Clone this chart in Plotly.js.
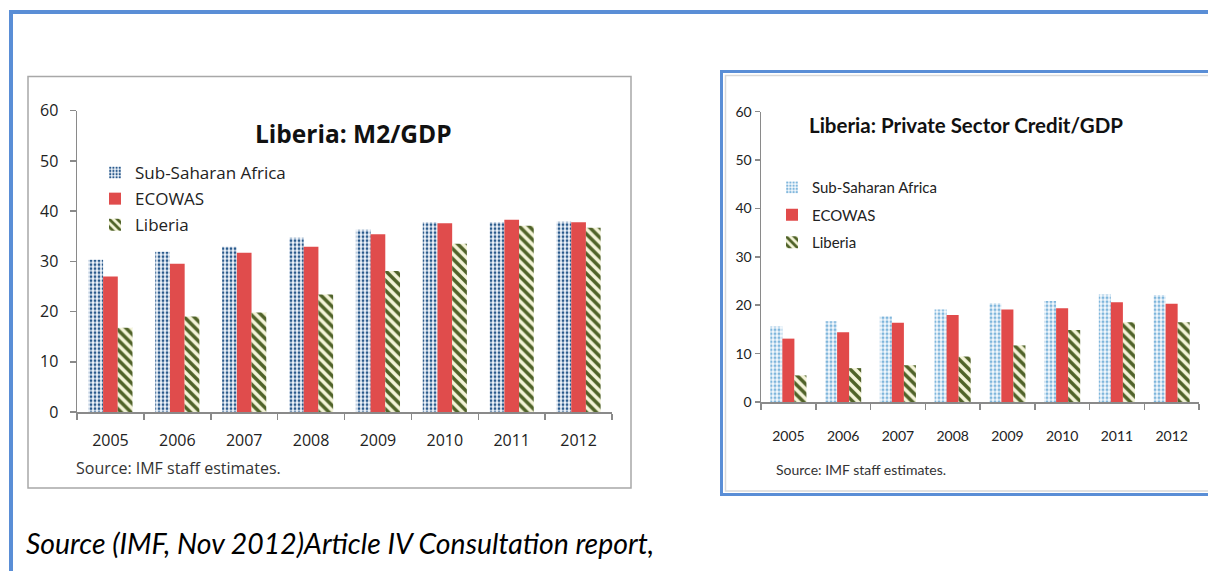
<!DOCTYPE html>
<html>
<head>
<meta charset="utf-8">
<script src="https://cdn.plot.ly/plotly-3.0.1.min.js"></script>
<style>
  html, body { margin: 0; padding: 0; background: #ffffff; }
  #chart { width: 1208px; height: 571px; }
</style>
</head>
<body>
<div id="chart"></div>
<script>
// ---- Data ----
var years = ['2005', '2006', '2007', '2008', '2009', '2010', '2011', '2012'];
var seriesNames = ['Sub-Saharan Africa', 'ECOWAS', 'Liberia'];

// Liberia: M2/GDP (percent)
var m2Ssa     = [30.3, 31.9, 32.9, 34.7, 36.3, 37.8, 37.8, 37.9];
var m2Ecowas  = [27.0, 29.5, 31.7, 32.9, 35.4, 37.6, 38.3, 37.8];
var m2Liberia = [16.8, 19.0, 19.8, 23.4, 28.1, 33.5, 37.1, 36.7];

// Liberia: Private Sector Credit/GDP (percent)
var pscSsa     = [15.6, 16.7, 17.7, 19.1, 20.4, 20.9, 22.2, 22.1];
var pscEcowas  = [13.1, 14.4, 16.4, 18.0, 19.1, 19.4, 20.6, 20.3];
var pscLiberia = [5.5, 7.0, 7.6, 9.4, 11.7, 14.9, 16.5, 16.5];

var yTicks = [0, 10, 20, 30, 40, 50, 60];

// ---- Geometry helpers (page pixels -> paper fractions) ----
var W = 1208, H = 571;
function px(x) { return x / W; }
function py(y) { return 1 - y / H; }

var leftFont = 'Open Sans, DejaVu Sans, sans-serif';
var rightFont = 'Lato, Open Sans, sans-serif';

function bar(x, y, name, xa, ya, legend, marker, group) {
  return {
    type: 'bar', x: x, y: y, name: name, xaxis: xa, yaxis: ya,
    legend: legend, legendgroup: group, marker: marker, hoverinfo: 'skip'
  };
}

var ssaLeft = { color: '#e4edf7', line: { width: 0 },
  pattern: { shape: '.', fgcolor: '#2a5a8c', bgcolor: '#edf3fa', size: 4, solidity: 0.38 } };
var ssaRight = { color: '#ffffff', line: { width: 0 },
  pattern: { shape: '.', fgcolor: '#7fb6dc', bgcolor: '#f4f9fd', size: 4, solidity: 0.45 } };
var ecoLeft = { color: '#e04c4c', line: { width: 0 } };
var ecoRight = { color: '#e14a4a', line: { width: 0 } };
var libMarker = { color: '#f2f2d4', line: { width: 0 },
  pattern: { shape: '\\', fgcolor: '#4f6228', bgcolor: '#f4f4d8', size: 7, solidity: 0.5 } };

var data = [
  bar(years, m2Ssa, seriesNames[0], 'x', 'y', 'legend', ssaLeft, 'a1'),
  bar(years, m2Ecowas, seriesNames[1], 'x', 'y', 'legend', ecoLeft, 'a2'),
  bar(years, m2Liberia, seriesNames[2], 'x', 'y', 'legend', libMarker, 'a3'),
  bar(years, pscSsa, seriesNames[0], 'x2', 'y2', 'legend2', ssaRight, 'b1'),
  bar(years, pscEcowas, seriesNames[1], 'x2', 'y2', 'legend2', ecoRight, 'b2'),
  bar(years, pscLiberia, seriesNames[2], 'x2', 'y2', 'legend2', libMarker, 'b3')
];

var axisGrey = '#8a8a8a';

function xAxis(domain, anchor, font, size, standoff) {
  return {
    domain: domain, anchor: anchor, type: 'category', fixedrange: true,
    showline: true, linecolor: axisGrey, linewidth: 1.5,
    ticks: 'outside', tickson: 'boundaries', ticklen: 6, tickcolor: axisGrey, tickwidth: 1.5,
    showgrid: false, zeroline: false,
    tickfont: { family: font, size: size, color: '#222222' },
    ticklabelstandoff: standoff
  };
}
function yAxis(domain, anchor, font, size, standoff, ticklen) {
  return {
    domain: domain, anchor: anchor, range: [0, 60], tickvals: yTicks, fixedrange: true,
    showline: true, linecolor: axisGrey, linewidth: 1.5,
    ticks: 'outside', ticklen: ticklen, tickcolor: axisGrey, tickwidth: 1.5,
    showgrid: false, zeroline: false,
    tickfont: { family: font, size: size, color: '#222222' },
    ticklabelstandoff: standoff
  };
}

var layout = {
  width: W, height: H,
  margin: { l: 0, r: 0, t: 0, b: 0 },
  paper_bgcolor: '#ffffff', plot_bgcolor: 'rgba(0,0,0,0)',
  barmode: 'group', bargap: 0.34, bargroupgap: 0,
  showlegend: true,
  xaxis: xAxis([px(77), px(612)], 'y', leftFont, 16, 13),
  yaxis: yAxis([py(412), py(110.7)], 'x', leftFont, 16, 8, 6),
  xaxis2: xAxis([px(761), px(1199)], 'y2', rightFont, 14, 21),
  yaxis2: yAxis([py(402), py(111.7)], 'x2', rightFont, 14, 0, 5),
  legend: {
    x: px(95), y: py(155), xanchor: 'left', yanchor: 'top',
    bgcolor: 'rgba(0,0,0,0)', borderwidth: 0, traceorder: 'grouped',
    tracegroupgap: 1, itemclick: false, itemdoubleclick: false,
    font: { family: leftFont, size: 17, color: '#222222' }
  },
  legend2: {
    x: px(772), y: py(171), xanchor: 'left', yanchor: 'top',
    bgcolor: 'rgba(0,0,0,0)', borderwidth: 0, traceorder: 'grouped',
    tracegroupgap: 5, itemclick: false, itemdoubleclick: false,
    font: { family: rightFont, size: 15, color: '#222222' }
  },
  annotations: [
    { text: '<b>Liberia: M2/GDP</b>', xref: 'paper', yref: 'paper', x: px(353), y: py(133),
      xanchor: 'center', yanchor: 'middle', showarrow: false,
      font: { family: leftFont, size: 24.5, color: '#111111' } },
    { text: 'Source: IMF staff estimates.', xref: 'paper', yref: 'paper', x: px(74), y: py(468),
      xanchor: 'left', yanchor: 'middle', showarrow: false,
      font: { family: leftFont, size: 16, color: '#333333' } },
    { text: '<b>Liberia: Private Sector Credit/GDP</b>', xref: 'paper', yref: 'paper', x: px(966), y: py(125),
      xanchor: 'center', yanchor: 'middle', showarrow: false,
      font: { family: rightFont, size: 20.5, color: '#111111' } },
    { text: 'Source: IMF staff estimates.', xref: 'paper', yref: 'paper', x: px(774), y: py(469),
      xanchor: 'left', yanchor: 'middle', showarrow: false,
      font: { family: rightFont, size: 14, color: '#333333' } },
    { text: '<i>Source (IMF, Nov 2012)Article IV Consultation report,</i>', xref: 'paper', yref: 'paper',
      x: px(24), y: py(543), xanchor: 'left', yanchor: 'middle', showarrow: false,
      font: { family: 'Lato, Open Sans, sans-serif', size: 28.4, color: '#000000' } }
  ],
  shapes: [
    // outer blue frame (top and left edges)
    { type: 'line', xref: 'paper', yref: 'paper', x0: px(9), x1: px(1210), y0: py(12), y1: py(12),
      line: { color: '#5a8ed6', width: 4 }, layer: 'below' },
    { type: 'line', xref: 'paper', yref: 'paper', x0: px(11), x1: px(11), y0: py(10), y1: py(575),
      line: { color: '#5a8ed6', width: 4 }, layer: 'below' },
    // left chart box
    { type: 'rect', xref: 'paper', yref: 'paper', x0: px(28), x1: px(631), y0: py(76.5), y1: py(488),
      line: { color: '#a8a8a8', width: 1.5 }, fillcolor: '#ffffff', layer: 'below' },
    // right chart box: blue frame + light inner border
    { type: 'rect', xref: 'paper', yref: 'paper', x0: px(721.5), x1: px(1215), y0: py(71.5), y1: py(494.5),
      line: { color: '#5a8ed6', width: 3 }, fillcolor: '#ffffff', layer: 'below' },
    { type: 'rect', xref: 'paper', yref: 'paper', x0: px(725.5), x1: px(1215), y0: py(75.5), y1: py(491),
      line: { color: '#d9d9d9', width: 1.5 }, fillcolor: 'rgba(0,0,0,0)', layer: 'below' }
  ]
};

Plotly.newPlot('chart', data, layout, { staticPlot: true, displayModeBar: false });
</script>
</body>
</html>
